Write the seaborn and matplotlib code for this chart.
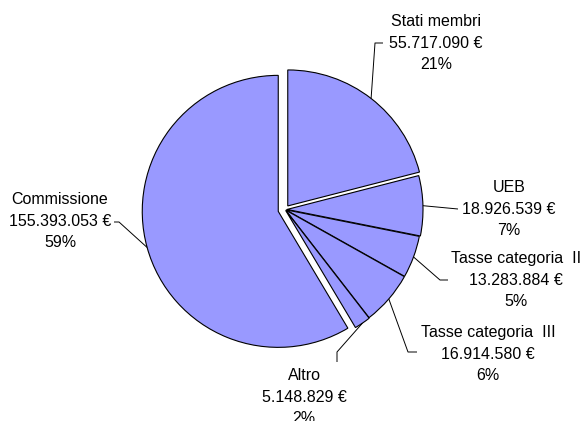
import matplotlib
matplotlib.use("Agg")
import matplotlib.pyplot as plt
import numpy as np
import seaborn as sns

# data
names = ["Stati membri", "UEB", "Tasse categoria  II", "Tasse categoria  III", "Altro", "Commissione"]
amounts = [55717090, 18926539, 13283884, 16914580, 5148829, 155393053]
percents = ["21%", "7%", "5%", "6%", "2%", "59%"]

sns.set_theme(style="white")
plt.rcParams["font.family"] = ["Liberation Sans", "DejaVu Sans"]

W, H = 586, 421
fig = plt.figure(figsize=(W / 100, H / 100), dpi=100)
ax = fig.add_axes([0, 0, 1, 1])


def fy(y):
    # pixel row (from top) -> data y
    return H - y


# explode distances in pixels (pie radius is 136 px)
explode = [4.5, 2.0, 1.0, 1.0, 1.5, 7.0]
wedges, _ = ax.pie(amounts, explode=explode, colors=["#9999FF"] * len(amounts),
                   startangle=90, counterclock=False, radius=136,
                   center=(285, fy(209.5)),
                   wedgeprops=dict(edgecolor="black", linewidth=0.8))
ax.set_xlim(0, W)
ax.set_ylim(0, H)
ax.set_aspect("equal")
ax.axis("off")

# label layout: text centre x, first-line y (pixels), leader path after the rim point
text_pos = [(436, 22), (509, 188), (516, 259), (488, 333), (304, 376), (60, 200)]
leader_pts = [
    [(375, 43), (383, 43)],
    [(458, 209)],
    [(440, 280), (448, 280)],
    [(408, 352), (417, 352)],
    [(337, 352), (337, 362)],
    [(119, 222), (114, 222)],
]


def fmt(v):
    return f"{v:,}".replace(",", ".") + " €"


for w, name, amt, pct, (tx, ty), pts in zip(wedges, names, amounts, percents, text_pos, leader_pts):
    mid = np.deg2rad((w.theta1 + w.theta2) / 2)
    cx, cy = w.center
    rx, ry = cx + w.r * np.cos(mid), cy + w.r * np.sin(mid)
    xs = [rx] + [p[0] for p in pts]
    ys = [ry] + [fy(p[1]) for p in pts]
    ax.plot(xs, ys, color="black", linewidth=0.7, solid_capstyle="butt")
    for i, line in enumerate([name, fmt(amt), pct]):
        ax.text(tx, fy(ty + i * 21.3), line, ha="center", va="center",
                fontsize=11.5, color="black")

fig.savefig("out.png", dpi=100, facecolor="white")
